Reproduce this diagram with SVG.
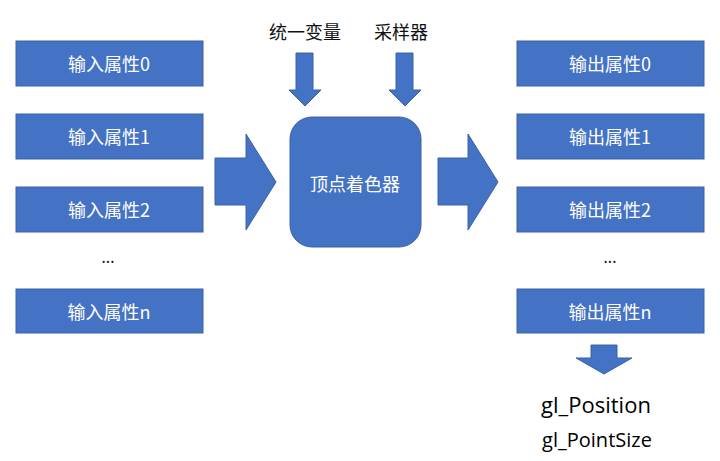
<svg xmlns="http://www.w3.org/2000/svg" width="720" height="461" viewBox="0 0 720 461">
<style>
.box{fill:#4472C4;stroke:#3A62A8;stroke-width:1}
.bt{fill:#ffffff;font-family:"Noto Sans CJK SC","Noto Sans",sans-serif;font-size:18px;text-anchor:middle;dominant-baseline:central}
.lbl{fill:#111;font-family:"Noto Sans CJK SC","Noto Sans",sans-serif;font-size:18px;text-anchor:middle;dominant-baseline:central}
.arr{fill:#4472C4;stroke:#3A62A8;stroke-width:1}
.dots{fill:#111;font-family:"Noto Sans",sans-serif;font-size:16px;text-anchor:middle}
.gl{fill:#000;font-family:"Open Sans","Noto Sans",sans-serif;text-anchor:middle}
</style>
<rect width="720" height="461" fill="#ffffff"/>
<g id="in0"><rect class="box" x="16" y="41" width="187" height="45"/><text class="bt" x="109" y="63">输入属性0</text></g>
<g id="in1"><rect class="box" x="16" y="114" width="187" height="45"/><text class="bt" x="109" y="136">输入属性1</text></g>
<g id="in2"><rect class="box" x="16" y="187" width="187" height="45"/><text class="bt" x="109" y="209">输入属性2</text></g>
<g id="indots"><text class="dots" x="108" y="263">...</text></g>
<g id="inn"><rect class="box" x="16" y="289" width="187" height="44"/><text class="bt" x="109" y="311">输入属性n</text></g>
<g id="out0"><rect class="box" x="517" y="41" width="187" height="45"/><text class="bt" x="610" y="63">输出属性0</text></g>
<g id="out1"><rect class="box" x="517" y="114" width="187" height="45"/><text class="bt" x="610" y="136">输出属性1</text></g>
<g id="out2"><rect class="box" x="517" y="187" width="187" height="45"/><text class="bt" x="610" y="209">输出属性2</text></g>
<g id="outdots"><text class="dots" x="610" y="263">...</text></g>
<g id="outn"><rect class="box" x="517" y="289" width="187" height="44"/><text class="bt" x="610" y="311">输出属性n</text></g>
<g id="shader"><rect class="box" x="290" y="117" width="131" height="130" rx="22" ry="22"/><text class="bt" x="355" y="183">顶点着色器</text></g>
<g id="uniform"><text class="lbl" x="305" y="31">统一变量</text></g>
<g id="sampler"><text class="lbl" x="401" y="31">采样器</text></g>
<g id="builtins">
<text class="gl" x="596" y="413" font-size="22">gl_Position</text>
<text class="gl" x="597" y="447" font-size="20">gl_PointSize</text>
</g>
<g id="connectors">
<polygon class="arr" points="296,53 313,53 313,90 321,90 305,106 289,90 296,90"/>
<polygon class="arr" points="396,53 413,53 413,90 421,90 405,106 389,90 396,90"/>
<polygon class="arr" points="215,158 246,158 246,134 276,182 246,230 246,205 215,205"/>
<polygon class="arr" points="438,158 468,158 468,134 498,182 468,230 468,205 438,205"/>
<polygon class="arr" points="591,345 617,345 617,358 632,358 604,374 576,358 591,358"/>
</g>
</svg>
